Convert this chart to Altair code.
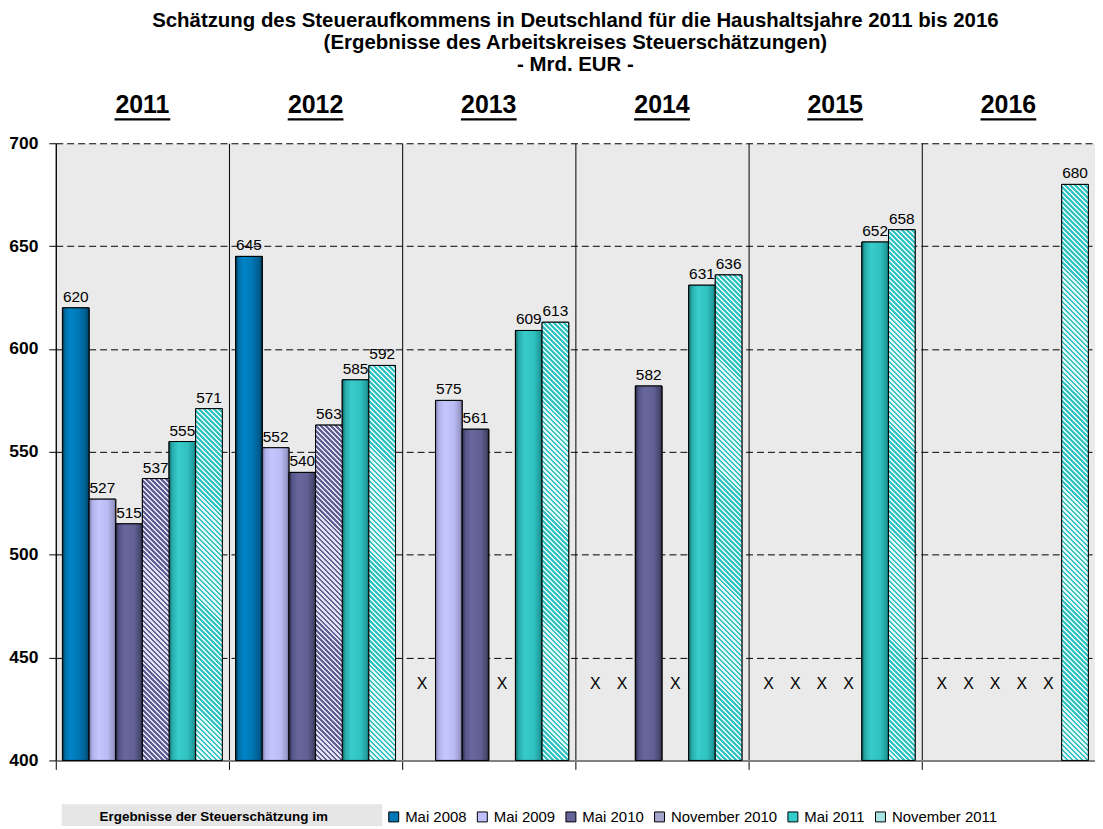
import altair as alt
import pandas as pd

# ---------------- data ----------------
years = ["2011", "2012", "2013", "2014", "2015", "2016"]
series = ["Mai 2008", "Mai 2009", "Mai 2010", "November 2010", "Mai 2011", "November 2011"]
mai_2008 = [620, 645, None, None, None, None]
mai_2009 = [527, 552, 575, None, None, None]
mai_2010 = [515, 540, 561, 582, None, None]
nov_2010 = [537, 563, None, None, None, None]
mai_2011 = [555, 585, 609, 631, 652, None]
nov_2011 = [571, 592, 613, 636, 658, 680]

title_lines = [
    "Schätzung des Steueraufkommens in Deutschland für die Haushaltsjahre 2011 bis 2016",
    "(Ergebnisse des Arbeitskreises Steuerschätzungen)",
    "- Mrd. EUR -",
]
legend_title = "Ergebnisse der Steuerschätzung im"
y_ticks = [400, 450, 500, 550, 600, 650, 700]
missing_text = "X"
missing_level = 437

values_by_series = [mai_2008, mai_2009, mai_2010, nov_2010, mai_2011, nov_2011]
rows = []
for s, vals in zip(series, values_by_series):
    for yr, v in zip(years, vals):
        rows.append({"year": yr, "series": s, "value": v})
df = pd.DataFrame(rows)
year_df = pd.DataFrame({"year": years})

# ---------------- layout / style ----------------
W, H = 1044, 620
Y0, Y1 = 400, 700
PAD_OUTER = 0.25
band = W / len(years)
bar_w = band / (len(series) + 2 * PAD_OUTER)
FONT = "Liberation Sans"

legend_colors = ["#0078b8", "#c0c0ff", "#646498", "#a4a4cc", "#33cccc", "#a8e4e4"]

cyl_stops = {
    "Mai 2008": [(0, "#002b45"), (0.1, "#006ea6"), (0.3, "#0084c8"), (0.6, "#0078b6"), (0.9, "#005a8a"), (1, "#00314d")],
    "Mai 2009": [(0, "#74749e"), (0.12, "#b0b0ea"), (0.35, "#c6c6ff"), (0.7, "#babaf4"), (0.92, "#9898c8"), (1, "#6a6a92")],
    "Mai 2010": [(0, "#26263f"), (0.12, "#55558a"), (0.35, "#68689e"), (0.7, "#606094"), (0.92, "#46466c"), (1, "#262640")],
    "Mai 2011": [(0, "#0f6262"), (0.12, "#28acac"), (0.35, "#38cccc"), (0.7, "#30c0c0"), (0.92, "#209c9c"), (1, "#116464")],
}
hatch_colors = {
    "November 2010": ("#606094", "#e2e2f4"),
    "November 2011": ("#30c4c4", "#e6f6f6"),
}


def cyl(stops):
    return {"gradient": "linear", "x1": 0, "y1": 0, "x2": 1, "y2": 0,
            "stops": [{"offset": o, "color": c} for o, c in stops]}


def hatch(value, c1, c2, period=5.0):
    # diagonal stripes at 45 degrees, constant pixel period, covering the whole bar
    h = (value - Y0) * H / (Y1 - Y0)
    w = bar_w
    b = w / h
    k = (1 + b) / (1 + b * b)
    L = h + w                      # gradient length in (x - y) pixel units
    half = period / 2.0
    stops = []
    j = 0
    while j * half < L:
        a = j * half / L
        e = min(1.0, (j + 1) * half / L)
        c = c1 if j % 2 == 0 else c2
        stops += [{"offset": round(a, 6), "color": c}, {"offset": round(e, 6), "color": c}]
        j += 1
    return {"gradient": "linear", "x1": 0, "y1": 1, "x2": round(k * b, 6), "y2": round(1 - k, 6),
            "stops": stops}


x_axis = alt.Axis(title=None, labels=False, ticks=True, tickSize=9, tickColor="black", tickWidth=1,
                  bandPosition=0, grid=True, gridColor="black", gridWidth=1, gridOpacity=1,
                  domainColor="#808080", domainWidth=2)
y_axis = alt.Axis(title=None, values=y_ticks, labelFontSize=17.5, labelFontWeight="bold", labelColor="black",
                  labelFont=FONT, labelPadding=11, tickColor="black", tickSize=7, domainColor="black",
                  grid=True, gridColor="black", gridDash=[7, 4], gridWidth=1, gridOpacity=1)

xs = alt.Scale(paddingInner=0, paddingOuter=0)
ys = alt.Scale(domain=[Y0, Y1], nice=False, zero=False)


def X():
    return alt.X("year:N", sort=years, scale=xs, axis=x_axis)


def XO():
    return alt.XOffset("series:N", scale=alt.Scale(domain=series, paddingInner=0, paddingOuter=PAD_OUTER))


def Yv():
    return alt.Y("value:Q", scale=ys, axis=y_axis)


valid = "isValid(datum.value)"

# gray box behind legend title (decoration)
box = alt.Chart(pd.DataFrame({"k": [0]})).mark_rect(color="#e6e6e6").encode(
    x=alt.value(6), x2=alt.value(328), y=alt.value(664), y2=alt.value(686))

base_bars = alt.Chart(df).transform_filter(valid).mark_bar(stroke="black", strokeWidth=1).encode(
    x=X(), xOffset=XO(), y=Yv(), y2=alt.datum(Y0),
    color=alt.Color("series:N", scale=alt.Scale(domain=series, range=legend_colors),
                    legend=alt.Legend(title=legend_title, orient="none", legendX=44, legendY=669,
                                      direction="horizontal", titleOrient="left", titleFont=FONT,
                                      titleFontSize=13.5, titleFontWeight="bold", titleColor="black",
                                      titlePadding=58, titleLimit=500, labelFont=FONT, labelFontSize=15,
                                      labelColor="black", labelLimit=400, symbolType="square",
                                      symbolSize=100, symbolStrokeColor="black", symbolStrokeWidth=1,
                                      symbolOpacity=1, columnPadding=8, labelOffset=4)))

layers = [box, base_bars]
for s in ["Mai 2008", "Mai 2009", "Mai 2010", "Mai 2011"]:
    layers.append(alt.Chart(df).transform_filter(f"datum.series === '{s}' && {valid}").mark_bar(
        fill=cyl(cyl_stops[s]), stroke="black", strokeWidth=1).encode(
        x=X(), xOffset=XO(), y=Yv(), y2=alt.datum(Y0)))

for s, vals in [("November 2010", nov_2010), ("November 2011", nov_2011)]:
    c1, c2 = hatch_colors[s]
    for yr, v in zip(years, vals):
        if v is None:
            continue
        layers.append(alt.Chart(df).transform_filter(
            f"datum.series === '{s}' && datum.year === '{yr}' && {valid}").mark_bar(
            fill=hatch(v, c1, c2), stroke="black", strokeWidth=1).encode(
            x=X(), xOffset=XO(), y=Yv(), y2=alt.datum(Y0)))

labels = alt.Chart(df).transform_filter(valid).mark_text(
    baseline="alphabetic", dy=-6, fontSize=15.5, font=FONT, color="black").encode(
    x=X(), xOffset=XO(), y=Yv(), text=alt.Text("value:Q", format="d"))

missing = alt.Chart(df).transform_filter(f"!({valid})").mark_text(
    baseline="middle", fontSize=16, font=FONT, color="black").encode(
    x=X(), xOffset=XO(), y=alt.datum(missing_level), text=alt.value(missing_text))

year_text = alt.Chart(year_df).mark_text(
    baseline="middle", fontSize=25, fontWeight="bold", font=FONT, color="black").encode(
    x=X(), y=alt.value(-38), text="year:N")

underline = alt.Chart(year_df).mark_tick(
    orient="horizontal", size=round(2.224 * 25), thickness=2.5, color="black", opacity=1).encode(
    x=X(), y=alt.value(-24))

layers += [labels, missing, year_text, underline]

chart = alt.layer(*layers).properties(
    width=W, height=H,
    padding={"left": 0, "right": 0, "top": 1, "bottom": 0},
    title=alt.TitleParams(text=title_lines, fontSize=20.5, fontWeight="bold", font=FONT, color="black",
                          lineHeight=22, anchor="middle", frame="group", offset=18),
).configure_view(fill="#eaeaea", stroke="transparent")

chart.save("out.html", embed_options={"renderer": "svg", "actions": False})
